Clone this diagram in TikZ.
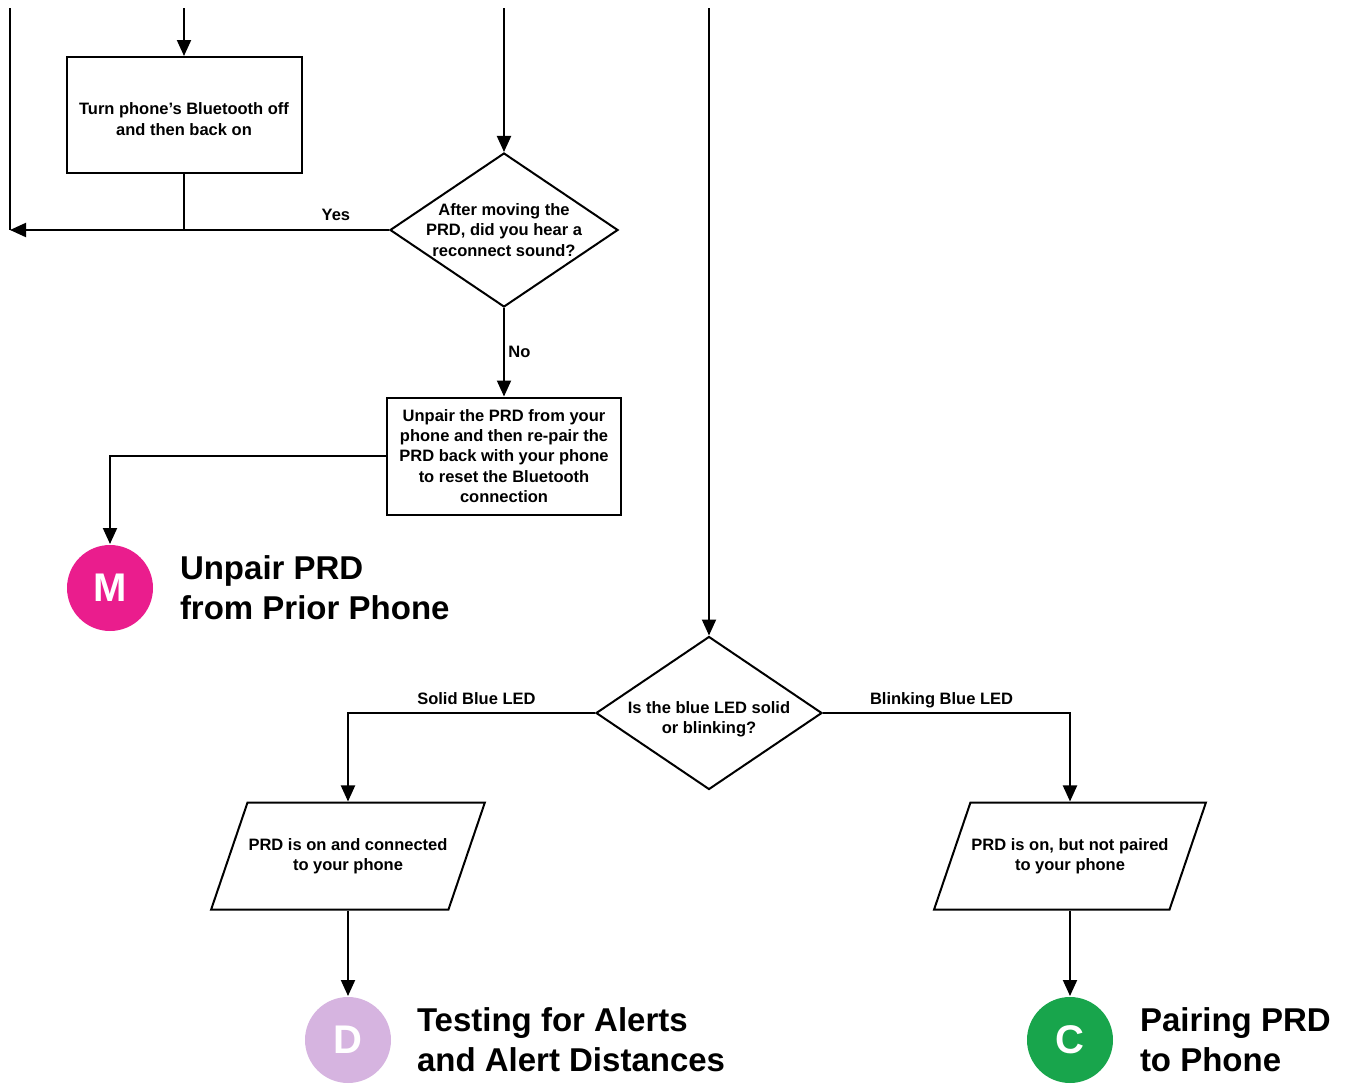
\documentclass[tikz,border=0pt]{standalone}
\usepackage{fontspec}
\setmainfont{Liberation Sans}
\usepackage{tikz}
\usetikzlibrary{shapes.geometric, arrows.meta, positioning}

\definecolor{hubpink}{RGB}{234,29,141}
\definecolor{hublilac}{RGB}{214,180,224}
\definecolor{hubgreen}{RGB}{24,165,76}

\begin{document}
\begin{tikzpicture}[x=1pt, y=-1pt, line width=2pt,
  every node/.style={font=\fontsize{16.5}{20.3}\selectfont\bfseries, align=center},
  stepbox/.style={draw, rectangle, inner sep=4pt},
  query/.style={draw, diamond, aspect=1.48, inner sep=-6pt, minimum width=228pt, minimum height=154pt},
  status/.style={draw, trapezium, trapezium left angle=71, trapezium right angle=109, trapezium stretches body=true, inner xsep=1pt, inner ysep=35pt, minimum width=266pt, minimum height=107pt},
  hub/.style={circle, minimum size=86pt, inner sep=0pt, text=white, font=\fontsize{40}{40}\selectfont\bfseries},
  caption/.style={inner sep=0pt, align=left, font=\fontsize{33}{40}\selectfont\bfseries},
  answer/.style={text depth=4pt},
  flow/.style={-{Triangle[length=16pt, width=14pt]}}
]
\useasboundingbox (0,0) rectangle (1345,1084);

% lines coming in from the page above
\coordinate (inL) at (10,8);
\coordinate (inA) at (184,8);
\coordinate (inB) at (504,8);
\coordinate (inC) at (709,8);
\coordinate (retL) at (10,230);

\node[stepbox, minimum width=235pt, minimum height=116pt] (btoff) at (184,115) {\rule{0pt}{20pt}Turn phone’s Bluetooth off\\and then back on};
\node[query] (heard) at (504,230) {After moving the\\PRD, did you hear a\\reconnect sound?};
\node[stepbox, minimum width=234pt, minimum height=117pt] (repair) at (504,456) {Unpair the PRD from your\\phone and then re-pair the\\PRD back with your phone\\to reset the Bluetooth\\connection};
\node[hub, fill=hubpink] (M) at (110,588) {M};
\node[caption, right=25pt of M] (Mtxt) {Unpair PRD\\from Prior Phone};

\node[query, minimum width=226pt, minimum height=153pt] (led) at (709,713) {\rule{0pt}{24pt}Is the blue LED solid\\or blinking?};
\node[status] (solid) at (348,856) {PRD is on and connected\\to your phone};
\node[status] (blink) at (1070,856) {PRD is on, but not paired\\to your phone};
\node[hub, fill=hublilac] (D) at (348,1040) {D};
\node[caption, right=24pt of D] (Dtxt) {Testing for Alerts\\and Alert Distances};
\node[hub, fill=hubgreen] (C) at (1070,1040) {C};
\node[caption, right=25pt of C] (Ctxt) {Pairing PRD\\to Phone};

% connectors
\draw (inL) -- (retL);
\draw[flow] (inA) -- (btoff);
\draw[flow] (inB) -- (heard);
\draw[flow] (inC) -- (led);
\draw (btoff) -- (btoff |- retL);
\draw[flow] (heard) -- node[answer, above=1pt, pos=0.14] {Yes} (retL);
\draw[flow] (heard) -- node[right] {No} (repair);
\draw[flow] (repair) -| (M);
\draw[flow] (led) -| node[answer, above, pos=0.24] {Solid Blue LED} (solid);
\draw[flow] (led) -| node[answer, above, pos=0.24] {Blinking Blue LED} (blink);
\draw[flow] (solid) -- (D);
\draw[flow] (blink) -- (C);
\end{tikzpicture}
\end{document}
